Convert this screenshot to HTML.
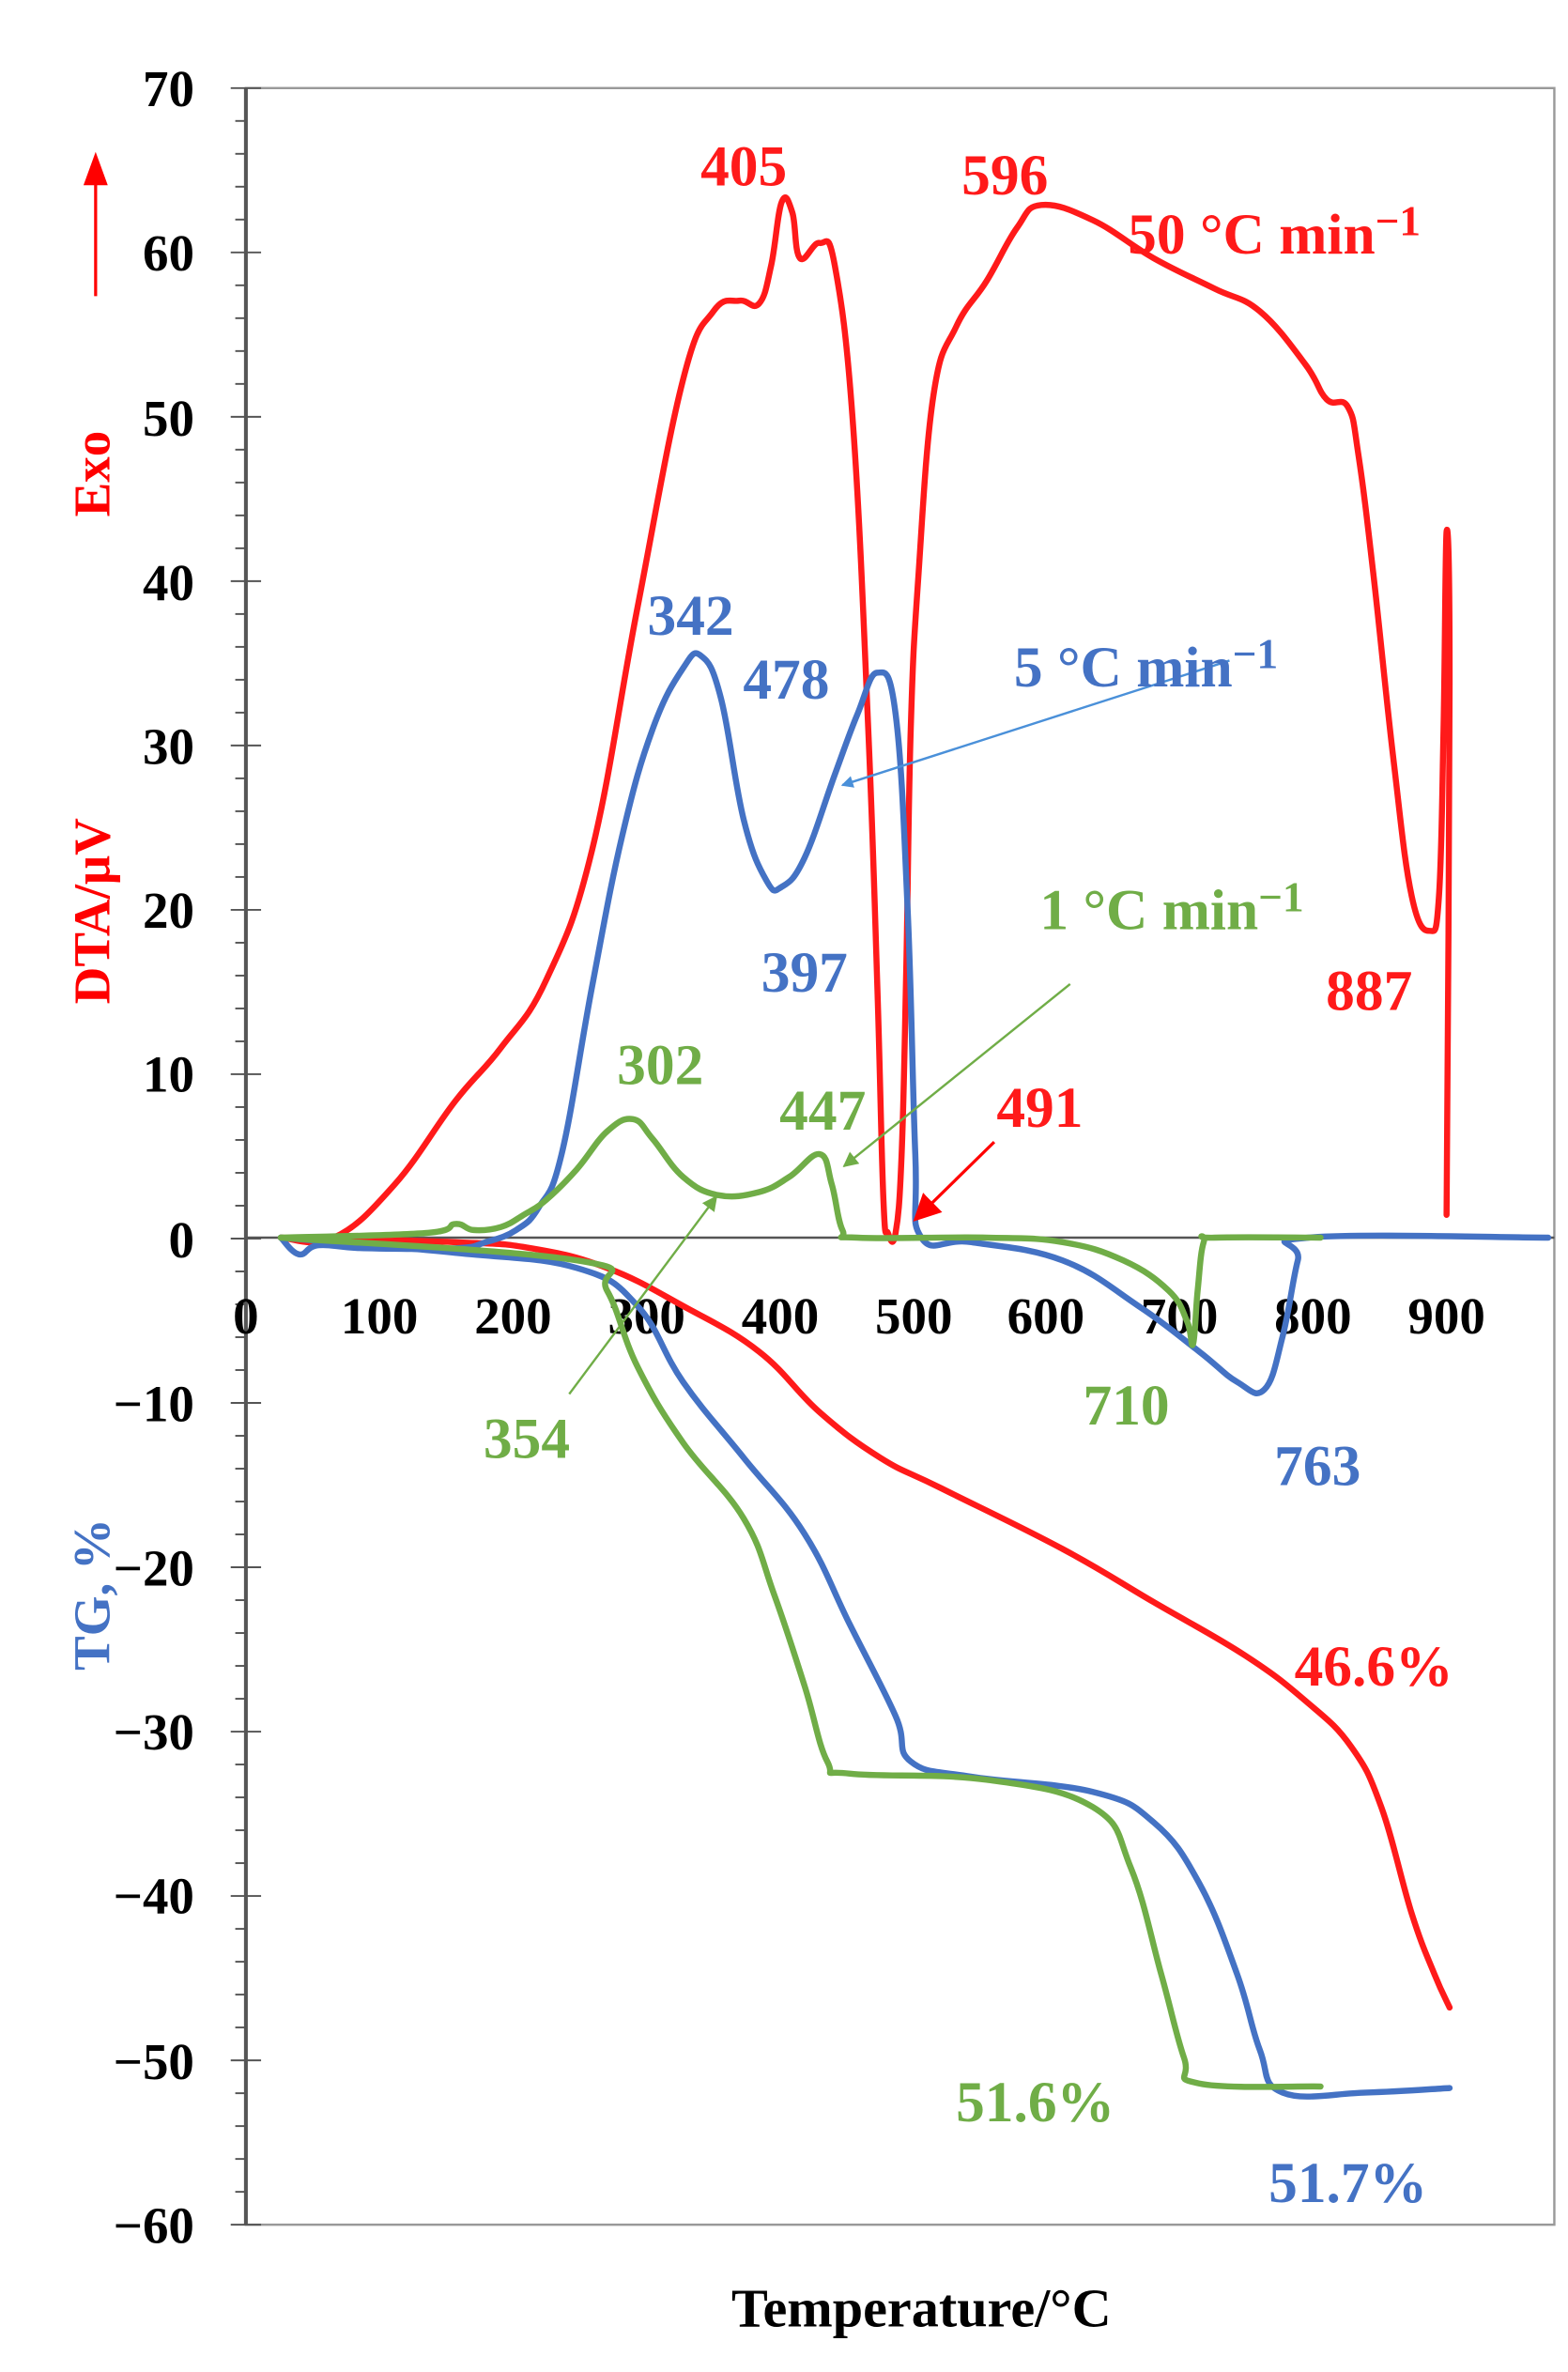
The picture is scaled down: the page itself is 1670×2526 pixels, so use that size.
<!DOCTYPE html>
<html><head><meta charset="utf-8"><style>
html,body{margin:0;padding:0;background:#fff;}
svg{display:block;}
text{font-family:"Liberation Serif",serif;font-weight:bold;}
</style></head><body>
<svg id="s" width="1670" height="2526" viewBox="0 0 1033 1562" preserveAspectRatio="none" xmlns="http://www.w3.org/2000/svg">
<defs>
<marker id="ab" markerWidth="8" markerHeight="8" refX="7" refY="4" orient="auto" markerUnits="userSpaceOnUse"><path d="M0,0 L8,4 L0,8 z" fill="#4a90d9"/></marker>
<marker id="ag" markerWidth="10" markerHeight="10" refX="9" refY="5" orient="auto" markerUnits="userSpaceOnUse"><path d="M0,0 L10,5 L0,10 z" fill="#70ad47"/></marker>
<marker id="ar" markerWidth="18" markerHeight="18" refX="16" refY="9" orient="auto" markerUnits="userSpaceOnUse"><path d="M0,0 L18,9 L0,18 z" fill="#ff0000"/></marker>
</defs>
<rect x="162" y="58" width="862" height="1407" fill="none" stroke="#999" stroke-width="1.5"/>
<line x1="162" y1="58" x2="162" y2="1465" stroke="#555" stroke-width="2.5"/>
<line x1="162" y1="815" x2="1024" y2="815" stroke="#555" stroke-width="1.5"/>
<g stroke="#555" stroke-width="1.2" id="ticks"></g>
<g font-size="34" fill="#000" text-anchor="end">
<text x="128" y="70">70</text><text x="128" y="178">60</text><text x="128" y="287">50</text><text x="128" y="395">40</text><text x="128" y="503">30</text><text x="128" y="611">20</text><text x="128" y="719">10</text><text x="128" y="828">0</text><text x="128" y="936">−10</text><text x="128" y="1044">−20</text><text x="128" y="1152">−30</text><text x="128" y="1260">−40</text><text x="128" y="1369">−50</text><text x="128" y="1477">−60</text>
</g>
<g font-size="34" fill="#000" text-anchor="middle">
<text x="162" y="878">0</text><text x="250" y="878">100</text><text x="338" y="878">200</text><text x="426" y="878">300</text><text x="514" y="878">400</text><text x="602" y="878">500</text><text x="689" y="878">600</text><text x="777" y="878">700</text><text x="865" y="878">800</text><text x="953" y="878">900</text>
</g>
<text x="607" y="1532" font-size="36" text-anchor="middle">Temperature/°C</text>
<line x1="63" y1="195" x2="63" y2="118" stroke="#ff0000" stroke-width="2"/>
<path d="M55,122 L63,100 L71,122 z" fill="#ff0000"/>
<text transform="translate(72,312) rotate(-90)" font-size="34" fill="#ff0000" text-anchor="middle">Exo</text>
<text transform="translate(72,600) rotate(-90)" font-size="34" fill="#ff0000" text-anchor="middle">DTA/μV</text>
<text transform="translate(72,1050) rotate(-90)" font-size="34" fill="#4472c4" text-anchor="middle">TG, %</text>
<g fill="none" stroke-width="4" stroke-linejoin="round" stroke-linecap="round">
<polyline class="sm" stroke="#ff1a1a" points="185,815 220,815 260,780 300,725 330,690 360,645 390,560 420,400 450,250 470,205 487,198 500,200 508,175 515,133 522,140 527,170 540,160 550,175 562,280 572,480 578,650 582,790 585,812 590,812 594,760 597,640 600,480 605,380 615,260 630,215 650,185 670,150 686,135 720,145 760,170 800,190 830,205 860,240 874,263 888,268 895,300 905,380 918,500 930,590 942,613 948,590 951,480 953,350 955,450 953,800"/>
<polyline class="sm" stroke="#ff1a1a" points="185,815 300,818 350,822 400,835 450,860 500,890 540,930 580,960 620,980 700,1020 760,1055 820,1090 860,1120 890,1150 910,1190 930,1260 945,1300 955,1322"/>
<polyline class="sm" stroke="#4472c4" points="185,815 197,826 210,820 240,822 300,822 320,818 340,810 355,795 370,760 390,650 410,550 430,480 450,440 462,432 475,460 490,540 505,580 515,584 530,565 550,510 565,470 578,443 590,470 598,600 603,760 607,815 640,818 700,830 750,860 790,890 815,910 833,915 845,880 855,830 862,815 1020,815"/>
<polyline class="sm" stroke="#4472c4" points="185,815 300,825 380,835 420,860 450,910 490,960 530,1010 560,1070 590,1130 600,1160 640,1170 720,1180 760,1200 790,1240 815,1300 830,1350 845,1378 900,1378 955,1375"/>
<polyline class="sm" stroke="#70ad47" points="185,815 280,812 300,806 312,810 330,808 345,800 360,790 380,770 400,745 417,737 430,750 450,775 473,787 500,785 520,775 540,760 548,780 555,810 565,815 650,815 700,818 740,830 770,850 782,870 786,885 789,850 793,818 800,815 870,815"/>
<polyline class="sm" stroke="#70ad47" points="185,815 380,830 400,850 420,900 450,950 490,1000 510,1050 530,1110 545,1160 560,1168 650,1172 720,1190 745,1230 765,1300 780,1355 790,1372 870,1374"/>
</g>
<line x1="810" y1="435" x2="555" y2="517" stroke="#4a90d9" stroke-width="1.5" marker-end="url(#ab)"/>
<line x1="705" y1="648" x2="556" y2="768" stroke="#70ad47" stroke-width="1.5" marker-end="url(#ag)"/>
<line x1="375" y1="918" x2="472" y2="788" stroke="#70ad47" stroke-width="1.5" marker-end="url(#ag)"/>
<line x1="655" y1="752" x2="603" y2="803" stroke="#ff0000" stroke-width="2" marker-end="url(#ar)"/>
<g font-size="38">
<text x="490" y="122" fill="#ff1a1a" text-anchor="middle">405</text>
<text x="662" y="128" fill="#ff1a1a" text-anchor="middle">596</text>
<text x="743" y="167" fill="#ff1a1a">50 °C min<tspan font-size="28" dy="-12">−1</tspan></text>
<text x="902" y="665" fill="#ff1a1a" text-anchor="middle">887</text>
<text x="685" y="742" fill="#ff1a1a" text-anchor="middle">491</text>
<text x="905" y="1110" fill="#ff1a1a" text-anchor="middle">46.6%</text>
<text x="455" y="418" fill="#4472c4" text-anchor="middle">342</text>
<text x="518" y="460" fill="#4472c4" text-anchor="middle">478</text>
<text x="668" y="452" fill="#4472c4">5 °C min<tspan font-size="28" dy="-12">−1</tspan></text>
<text x="530" y="653" fill="#4472c4" text-anchor="middle">397</text>
<text x="868" y="978" fill="#4472c4" text-anchor="middle">763</text>
<text x="888" y="1450" fill="#4472c4" text-anchor="middle">51.7%</text>
<text x="685" y="612" fill="#70ad47">1 °C min<tspan font-size="28" dy="-12">−1</tspan></text>
<text x="435" y="714" fill="#70ad47" text-anchor="middle">302</text>
<text x="542" y="744" fill="#70ad47" text-anchor="middle">447</text>
<text x="347" y="960" fill="#70ad47" text-anchor="middle">354</text>
<text x="742" y="938" fill="#70ad47" text-anchor="middle">710</text>
<text x="682" y="1397" fill="#70ad47" text-anchor="middle">51.6%</text>
</g>
</svg>
<script>
(function(){
var NS="http://www.w3.org/2000/svg",g=document.getElementById("ticks");
for(var i=0;i<=65;i++){var y=58+i*(1407/65);var l=document.createElementNS(NS,"line");
var major=(i%5==0);l.setAttribute("x1",major?152:155);l.setAttribute("x2",major?172:162);
l.setAttribute("y1",y);l.setAttribute("y2",y);g.appendChild(l);}
var ps=document.querySelectorAll("polyline.sm");
for(var k=0;k<ps.length;k++){var p=ps[k];var a=p.getAttribute("points").trim().split(/\s+/).map(function(s){return s.split(",").map(Number);});
var d="M"+a[0][0]+","+a[0][1];
for(var j=0;j<a.length-1;j++){var p0=a[j-1]||a[j],p1=a[j],p2=a[j+1],p3=a[j+2]||p2;var t=0.2;
var c1x=p1[0]+(p2[0]-p0[0])*t,c1y=p1[1]+(p2[1]-p0[1])*t,c2x=p2[0]-(p3[0]-p1[0])*t,c2y=p2[1]-(p3[1]-p1[1])*t;
d+=" C"+c1x+","+c1y+" "+c2x+","+c2y+" "+p2[0]+","+p2[1];}
var path=document.createElementNS(NS,"path");path.setAttribute("d",d);path.setAttribute("stroke",p.getAttribute("stroke"));
p.parentNode.replaceChild(path,p);}
})();
</script>
</body></html>
